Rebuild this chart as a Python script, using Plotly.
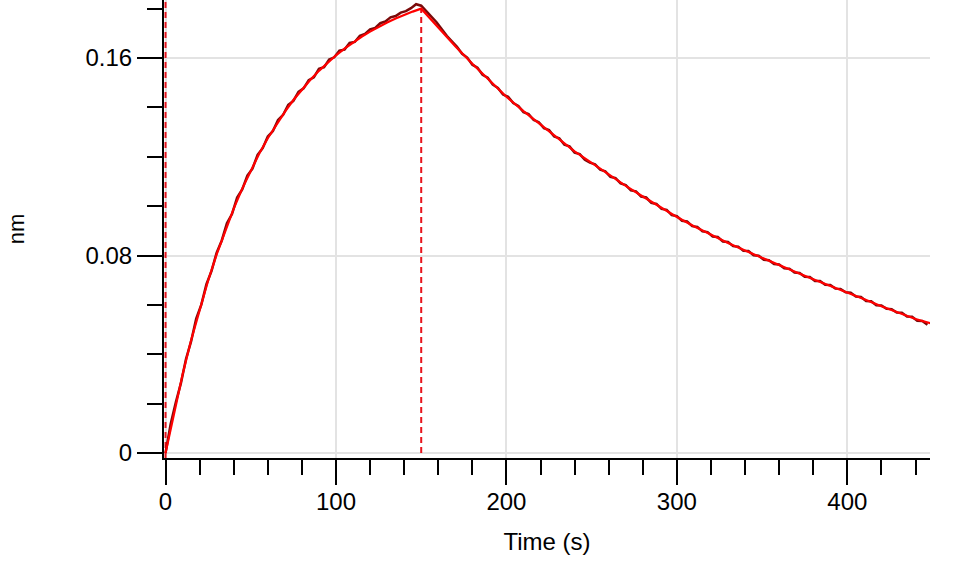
import plotly.graph_objects as go

# ---- Fit curve (association 0-150 s, dissociation 150-449 s) ----
fit_time = [0, 5, 10, 15, 20, 25, 30, 35, 40, 45, 50, 55, 60, 65, 70, 75, 80, 85, 90, 95,
            100, 105, 110, 115, 120, 125, 130, 135, 140, 145, 150,
            160, 170, 180, 190, 200, 210, 220, 230, 240, 250, 260, 270, 280, 290, 300,
            310, 320, 330, 340, 350, 360, 370, 380, 390, 400, 410, 420, 430, 440, 449]
fit_nm = [0.0, 0.0166, 0.0318, 0.0457, 0.0583, 0.0699, 0.0805, 0.0902, 0.0990, 0.1071,
          0.1145, 0.1213, 0.1275, 0.1331, 0.1382, 0.1430, 0.1473, 0.1512, 0.1548, 0.1581,
          0.1611, 0.1638, 0.1663, 0.1686, 0.1707, 0.1727, 0.1744, 0.1760, 0.1775, 0.1788, 0.1800,
          0.1723, 0.1648, 0.1577, 0.1509, 0.1443, 0.1385, 0.1331, 0.1276, 0.1222, 0.1175,
          0.1128, 0.1082, 0.1039, 0.0997, 0.0956, 0.0919, 0.0884, 0.0851, 0.0820, 0.0790,
          0.0761, 0.0732, 0.0704, 0.0678, 0.0652, 0.0623, 0.0595, 0.0570, 0.0543, 0.0525]

# ---- Measured data (every 3 s) ----
data_time = list(range(0, 448, 3))
data_nm = [0.0000, 0.0118, 0.0205, 0.0282, 0.0381, 0.0452, 0.0545, 0.0601, 0.0684, 0.0738,
           0.0812, 0.0861, 0.0931, 0.0968, 0.1035, 0.1068, 0.1124, 0.1152, 0.1208, 0.1235,
           0.1282, 0.1304, 0.1349, 0.1370, 0.1410, 0.1426, 0.1463, 0.1477, 0.1510, 0.1522,
           0.1556, 0.1563, 0.1594, 0.1603, 0.1630, 0.1634, 0.1661, 0.1665, 0.1690, 0.1698,
           0.1716, 0.1722, 0.1741, 0.1748, 0.1765, 0.1770, 0.1784, 0.1790, 0.1802, 0.1818,
           0.1812,
           0.1790, 0.1768, 0.1745, 0.1718, 0.1690, 0.1668, 0.1645, 0.1617, 0.1602, 0.1573,
           0.1561, 0.1532, 0.1520, 0.1492, 0.1479, 0.1452, 0.1443, 0.1418, 0.1406, 0.1381,
           0.1373, 0.1349, 0.1340, 0.1316, 0.1308, 0.1282, 0.1275, 0.1249, 0.1242, 0.1217,
           0.1211, 0.1188, 0.1176, 0.1169, 0.1148, 0.1141, 0.1119, 0.1114, 0.1092, 0.1085,
           0.1064, 0.1060, 0.1039, 0.1035, 0.1013, 0.1009, 0.0989, 0.0985, 0.0964, 0.0960,
           0.0941, 0.0938, 0.0919, 0.0916, 0.0898, 0.0895, 0.0877, 0.0875, 0.0857, 0.0855,
           0.0838, 0.0836, 0.0819, 0.0818, 0.0801, 0.0799, 0.0783, 0.0781, 0.0766, 0.0764,
           0.0748, 0.0747, 0.0731, 0.0729, 0.0714, 0.0713, 0.0697, 0.0697, 0.0682, 0.0681,
           0.0666, 0.0665, 0.0651, 0.0649, 0.0634, 0.0632, 0.0616, 0.0615, 0.0599, 0.0598,
           0.0584, 0.0583, 0.0569, 0.0568, 0.0553, 0.0552, 0.0536, 0.0535, 0.0520]

phase_boundaries = [0, 150]
x_ticks = [0, 100, 200, 300, 400]
y_ticks = [0, 0.08, 0.16]
y_tick_text = ["0", "0.08", "0.16"]

X_RANGE = [-0.9, 448.5]
Y_RANGE = [-0.002, 0.1835]

FONT = "Liberation Sans, Arial, sans-serif"

fig = go.Figure()

# dashed phase boundary lines
fig.add_trace(go.Scatter(x=[phase_boundaries[0]] * 2, y=Y_RANGE, mode="lines",
                         line=dict(color="#e8141c", width=2, dash="6px,4px"),
                         hoverinfo="skip", showlegend=False))
peak = fit_nm[fit_time.index(phase_boundaries[1])]
fig.add_trace(go.Scatter(x=[phase_boundaries[1]] * 2, y=[0, peak], mode="lines",
                         line=dict(color="#e8141c", width=2, dash="6px,4px"),
                         hoverinfo="skip", showlegend=False))

# data
fig.add_trace(go.Scatter(x=data_time, y=data_nm, mode="lines",
                         line=dict(color="#7a0a0a", width=2.5),
                         showlegend=False))
# fit
fig.add_trace(go.Scatter(x=fit_time, y=fit_nm, mode="lines",
                         line=dict(color="#ff0000", width=2.2),
                         showlegend=False))

fig.update_layout(
    width=955, height=562,
    margin=dict(l=164, r=25, t=0, b=104, autoexpand=False),
    paper_bgcolor="white", plot_bgcolor="white",
    font=dict(family=FONT, size=24, color="black"),
    showlegend=False,
)

fig.update_xaxes(
    range=X_RANGE, tickvals=x_ticks, ticks="outside", ticklen=25, tickwidth=2,
    tickcolor="black", showline=True, linecolor="black", linewidth=2,
    showgrid=True, gridcolor="#e3e3e3", gridwidth=2, zeroline=False,
    automargin=False, ticklabelstandoff=-4,
    tickfont=dict(family=FONT, size=24, color="black"),
    minor=dict(dtick=20, tick0=0, ticklen=15, tickwidth=2, tickcolor="black",
               ticks="outside", showgrid=False),
    title=dict(text="Time (s)", font=dict(family=FONT, size=24, color="black"),
               standoff=19),
)
fig.update_yaxes(
    range=Y_RANGE, tickvals=y_ticks, ticktext=y_tick_text, ticks="outside", ticklen=25,
    tickwidth=2, tickcolor="black", showline=True, linecolor="black", linewidth=2,
    showgrid=True, gridcolor="#e3e3e3", gridwidth=2, zeroline=False,
    automargin=False,
    tickfont=dict(family=FONT, size=24, color="black"),
    minor=dict(dtick=0.02, tick0=0, ticklen=15, tickwidth=2, tickcolor="black",
               ticks="outside", showgrid=False),
    title=dict(text="nm", font=dict(family=FONT, size=22, color="black"), standoff=55),
)

fig.write_html("out.html", config={"displayModeBar": False},
               post_script="document.body.style.margin='0';")
